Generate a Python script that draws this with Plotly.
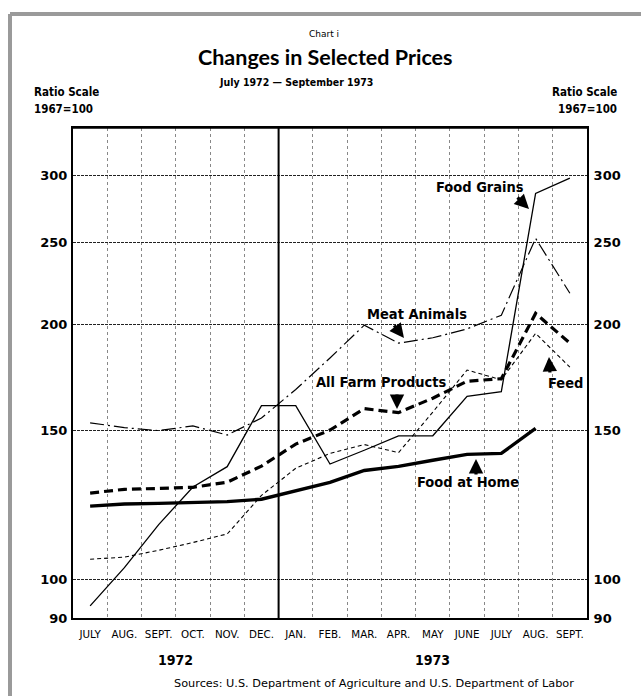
import math
import plotly.graph_objects as go

# ---------------- data ----------------
months = ["JULY", "AUG.", "SEPT.", "OCT.", "NOV.", "DEC.", "JAN.", "FEB.",
          "MAR.", "APR.", "MAY", "JUNE", "JULY", "AUG.", "SEPT."]
food_grains = [93.0, 103.2, 116.0, 128.5, 135.8, 160.3, 160.3, 136.8,
               142.0, 147.7, 147.7, 164.4, 166.5, 285.5, 297.5]
meat_animals = [153.0, 151.0, 149.8, 151.7, 148.0, 155.0, 167.5, 182.5,
                199.5, 190.0, 192.8, 197.5, 205.0, 252.6, 217.6]
all_farm = [126.4, 127.7, 128.0, 128.4, 130.2, 136.0, 144.4, 150.0,
            159.0, 157.3, 163.6, 171.3, 172.5, 206.0, 190.0]
feed = [105.6, 106.2, 108.2, 110.5, 113.1, 125.6, 135.2, 140.8,
        144.2, 141.1, 157.5, 176.6, 172.0, 195.1, 178.0]
food_home = [122.0, 122.7, 122.9, 123.1, 123.5, 124.3, 127.3, 130.1,
             134.4, 135.9, 138.2, 140.4, 140.8, 150.7]
y_ticks = [90, 100, 150, 200, 250, 300]
years = ["1972", "1973"]

# ---------------- layout geometry ----------------
W, H = 641, 696
ML, MR, MT, MB = 73, 54, 128, 78
PW, PH = W - ML - MR, H - MT - MB
YMIN, YMAX = 90, 341


def px(x):
    return (x - ML) / PW


def py(y):
    return (H - MB - y) / PH


xs = [i + 0.5 for i in range(len(months))]
COND = "DejaVu Sans Condensed, DejaVu Sans, sans-serif"
SANS = "DejaVu Sans, sans-serif"

fig = go.Figure()


def add(vals, width, dash, name):
    fig.add_trace(go.Scatter(
        x=xs[:len(vals)], y=vals, mode="lines", name=name,
        line=dict(color="black", width=width, dash=dash),
        showlegend=False, hoverinfo="skip"))


add(feed, 1.1, "4px,3px", "Feed")
add(food_grains, 1.3, "solid", "Food Grains")
add(meat_animals, 1.2, "14px,4px,2px,4px", "Meat Animals")
add(all_farm, 3.2, "9px,5px", "All Farm Products")
add(food_home, 3.4, "solid", "Food at Home")

# invisible trace for the right-hand axis
fig.add_trace(go.Scatter(x=xs[:len(food_home)], y=food_home, yaxis="y2",
                         mode="lines", line=dict(width=0), opacity=0,
                         showlegend=False, hoverinfo="skip"))

yrange = [math.log10(YMIN), math.log10(YMAX)]
yaxis_common = dict(
    type="log", range=yrange, tickvals=y_ticks,
    ticktext=[str(v) for v in y_ticks],
    tickfont=dict(family=SANS, size=13, color="black", weight="bold"),
    ticks="", showline=True, linecolor="black", linewidth=2,
    zeroline=False, fixedrange=True)

fig.update_layout(
    width=W, height=H,
    margin=dict(l=ML, r=MR, t=MT, b=MB),
    paper_bgcolor="white", plot_bgcolor="white",
    xaxis=dict(range=[0, len(months)], tickvals=xs, ticktext=months,
               tickfont=dict(family=SANS, size=10.3, color="black"),
               ticks="", showgrid=False, zeroline=False,
               showline=True, linecolor="black", linewidth=2, mirror=True,
               ticklabelstandoff=6, fixedrange=True,
               minor=dict(tick0=0, dtick=1, showgrid=True, gridcolor="#888888",
                          griddash="dot", gridwidth=1)),
    yaxis=dict(**yaxis_common, side="left", showgrid=True,
               gridcolor="#222222", griddash="3px,1px", gridwidth=1,
               ticklabelstandoff=1),
    yaxis2=dict(**yaxis_common, side="right", overlaying="y",
                showgrid=False, ticklabelstandoff=2),
)

# Dec / Jan separator and top frame
fig.add_shape(type="line", xref="x", yref="paper", x0=6, x1=6, y0=0, y1=1,
              line=dict(color="black", width=2))
fig.add_shape(type="line", xref="paper", yref="paper", x0=0, x1=1, y0=1, y1=1,
              line=dict(color="black", width=1.5))
# page border (gray band at left and top)
fig.add_shape(type="line", xref="paper", yref="paper", x0=px(10), x1=px(10),
              y0=py(H + 5), y1=py(14), line=dict(color="#9a9a9a", width=4))
fig.add_shape(type="line", xref="paper", yref="paper", x0=px(10), x1=px(W + 5),
              y0=py(14), y1=py(14), line=dict(color="#9a9a9a", width=4))


def text(s, x, y, size, family=COND, bold=True, xanchor="center"):
    fig.add_annotation(text=s, x=px(x), y=py(y), xref="paper", yref="paper",
                       showarrow=False, xanchor=xanchor, yanchor="middle",
                       font=dict(family=family, size=size, color="black",
                                 weight="bold" if bold else "normal"))


def arrow(hx, hy, tx, ty):
    fig.add_annotation(text="", x=px(hx), y=py(hy), xref="paper", yref="paper",
                       ax=tx - hx, ay=ty - hy, showarrow=True, arrowhead=2,
                       arrowsize=0.9, arrowwidth=3.2, arrowcolor="black")


# titles
text("Chart i", 324, 34, 9, family=SANS, bold=False)
text("Changes in Selected Prices", 325, 57, 21.5, family="Lato, sans-serif")
text("July 1972 — September 1973", 296, 82, 10.5)
text("Ratio Scale", 32, 92, 11.5, xanchor="left")
text("1967=100", 32, 109, 11.5, xanchor="left")
text("Ratio Scale", 619, 92, 11.5, xanchor="right")
text("1967=100", 619, 109, 11.5, xanchor="right")

# series labels and arrows
LS = 14.5
text("Food Grains", 480, 187, LS)
arrow(529, 209, 516, 196)
text("Meat Animals", 417, 314, LS)
arrow(404, 338, 393, 324)
text("All Farm Products", 381, 382, LS)
arrow(397, 409, 397, 393)
text("Feed", 565, 383, LS)
arrow(549, 357, 550, 374)
text("Food at Home", 468, 482, LS)
arrow(476, 459, 476, 476)

# year labels and source
text(years[0], 175, 660, 14)
text(years[1], 432, 660, 14)
text("Sources: U.S. Department of Agriculture and U.S. Department of Labor",
     374, 683, 11.3, family=SANS, bold=False)

fig.write_html("out.html", config={"displayModeBar": False},
               post_script="document.body.style.margin='0px';")
